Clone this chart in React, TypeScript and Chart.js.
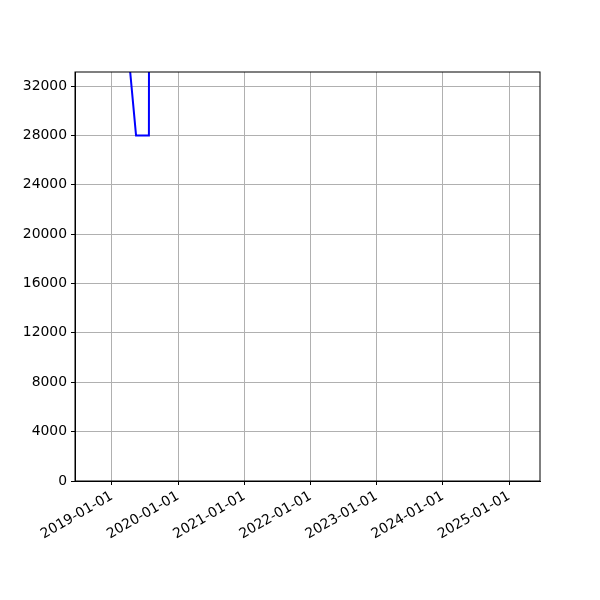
import React, { useEffect, useRef } from 'react'
import { Chart, registerables } from 'chart.js'

Chart.register(...registerables)

// dates of the points (the series runs off the top of the axes except for the dip)
const dates = ['2018-10-06', '2019-04-10', '2019-05-14', '2019-07-24', '2019-07-26', '2025-02-25']
const values = [60000, 33400, 28000, 28000, 60000, 60000]

const xTickLabels = ['2019-01-01', '2020-01-01', '2021-01-01', '2022-01-01', '2023-01-01', '2024-01-01', '2025-01-01']
const yTicks = [0, 4000, 8000, 12000, 16000, 20000, 24000, 28000, 32000]

const X_MIN = '2018-06-11'
const X_MAX = '2025-06-21'
const Y_MAX = 33137

const ms = (d: string) => Date.parse(d + 'T00:00:00Z')
const fmt = (v: number) => new Date(v).toISOString().slice(0, 10)

export default function App(){
  const canvasRef = useRef<HTMLCanvasElement | null>(null)

  useEffect(()=>{
    document.body.style.margin = '0'
    const ctx = canvasRef.current
    if(!ctx) return

    const font = { family: 'DejaVu Sans', size: 13.9 }
    const chart = new Chart(ctx, {
      type: 'line',
      data: {
        datasets: [{
          data: dates.map((d, i) => ({ x: ms(d), y: values[i] })),
          borderColor: '#0000ff',
          borderWidth: 2,
          pointRadius: 0,
          tension: 0,
          clip: 0
        }]
      },
      options: {
        animation: false,
        responsive: false,
        devicePixelRatio: 1,
        layout: { padding: { top: 72, right: 60, left: 0, bottom: 0 } },
        plugins: { legend: { display: false }, tooltip: { enabled: false } },
        scales: {
          x: {
            type: 'linear',
            min: ms(X_MIN),
            max: ms(X_MAX),
            afterBuildTicks: (s: any) => { s.ticks = xTickLabels.map(l => ({ value: ms(l) })) },
            afterFit: (s: any) => { s.height = 119 },
            ticks: {
              callback: (v: any) => fmt(Number(v)),
              minRotation: 30,
              maxRotation: 30,
              autoSkip: false,
              color: '#000',
              font,
              padding: 3
            },
            grid: { color: '#b0b0b0', lineWidth: 1, tickColor: '#000', tickLength: 4 },
            border: { color: '#000', width: 1 }
          },
          y: {
            min: 0,
            max: Y_MAX,
            afterBuildTicks: (s: any) => { s.ticks = yTicks.map(v => ({ value: v })) },
            afterFit: (s: any) => { s.width = 75 },
            ticks: { callback: (v: any) => String(v), color: '#000', font, padding: 4 },
            grid: { color: '#b0b0b0', lineWidth: 1, tickColor: '#000', tickLength: 4 },
            border: { color: '#000', width: 1 }
          }
        }
      },
      plugins: [{
        id: 'frame',
        afterDraw: (c: any) => {
          const { left, right, top, bottom } = c.chartArea
          const g = c.ctx
          g.save()
          g.strokeStyle = '#000'
          g.lineWidth = 1
          g.strokeRect(left, top, right - left, bottom - top)
          g.restore()
        }
      }]
    })

    return ()=> chart.destroy()
  }, [])

  return (
    <div style={{ width: 600, height: 600, background: '#fff' }}>
      <canvas ref={canvasRef} width={600} height={600}></canvas>
    </div>
  )
}
